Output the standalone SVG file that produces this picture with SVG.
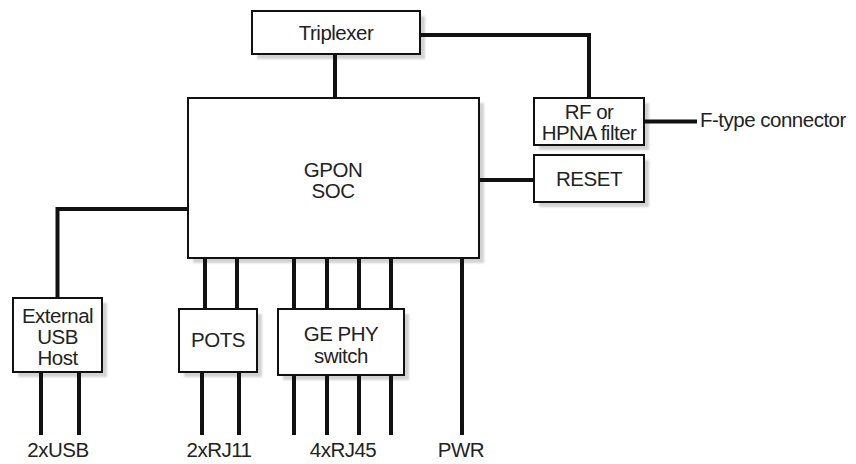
<svg xmlns="http://www.w3.org/2000/svg" width="856" height="464" viewBox="0 0 856 464">
<style>
.box{fill:#fff;stroke:#111;stroke-width:2}
.sh{fill:#d2d2d2}
.ln{fill:none;stroke:#111;stroke-width:4}
text{font-family:"Liberation Sans",Arial,sans-serif;font-size:20.5px;letter-spacing:-0.5px;fill:#222;text-anchor:middle}
</style>
<defs>
<filter id="blur" x="-5%" y="-5%" width="110%" height="110%"><feGaussianBlur stdDeviation="0.8"/></filter>
</defs>
<rect width="856" height="464" fill="#fff"/>
<g id="shadows" class="sh" filter="url(#blur)">
<rect x="257" y="16" width="168" height="43"/>
<rect x="193" y="103" width="291" height="160"/>
<rect x="539" y="103" width="110" height="47"/>
<rect x="539" y="160" width="110" height="47"/>
<rect x="18" y="303" width="89" height="74"/>
<rect x="184" y="314" width="78" height="63"/>
<rect x="283" y="314" width="126" height="66"/>
</g>
<g id="connectors" class="ln">
<path d="M335 54V98"/>
<path d="M420 35H589V98"/>
<path d="M644 121.5H697"/>
<path d="M479 180H534"/>
<path d="M188 209H57.5V298"/>
<path d="M41 372V435M79 372V435"/>
<path d="M205 258V309M237 258V309"/>
<path d="M202 372V435M239 372V435"/>
<path d="M294 258V309M327 258V309M359 258V309M391 258V309"/>
<path d="M294 375V435M327 375V435M359 375V435M391 375V435"/>
<path d="M462 258V435"/>
</g>
<g id="triplexer"><rect class="box" x="252" y="11" width="168" height="43"/><text x="336" y="40">Triplexer</text></g>
<g id="gpon"><rect class="box" x="188" y="98" width="291" height="160"/><text x="333" y="177">GPON</text><text x="333" y="198">SOC</text></g>
<g id="rf"><rect class="box" x="534" y="98" width="110" height="47"/><text x="589" y="119">RF or</text><text x="589" y="140">HPNA filter</text></g>
<g id="reset"><rect class="box" x="534" y="155" width="110" height="47"/><text x="589" y="186">RESET</text></g>
<g id="usb"><rect class="box" x="13" y="298" width="89" height="74"/><text x="57.5" y="322.5">External</text><text x="57.5" y="343.5">USB</text><text x="57.5" y="364.5">Host</text></g>
<g id="pots"><rect class="box" x="179" y="309" width="78" height="63"/><text x="218" y="347">POTS</text></g>
<g id="gephy"><rect class="box" x="278" y="309" width="126" height="66"/><text x="341" y="341">GE PHY</text><text x="341" y="363">switch</text></g>
<g id="labels">
<text x="700" y="127" style="text-anchor:start">F-type connector</text>
<text x="58" y="457">2xUSB</text>
<text x="219" y="457">2xRJ11</text>
<text x="343" y="457">4xRJ45</text>
<text x="461" y="457">PWR</text>
</g>
</svg>
